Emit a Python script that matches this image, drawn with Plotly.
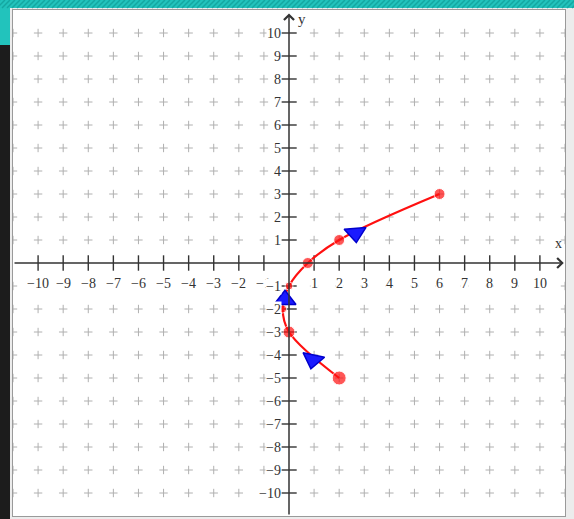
import plotly.graph_objects as go

# ---- data ----
x_ticks = [-10, -9, -8, -7, -6, -5, -4, -3, -2, -1, 1, 2, 3, 4, 5, 6, 7, 8, 9, 10]
y_ticks = [-10, -9, -8, -7, -6, -5, -4, -3, -2, -1, 1, 2, 3, 4, 5, 6, 7, 8, 9, 10]
grid_x = [-11] + x_ticks + [11]
grid_y = y_ticks

curve_x = [2, 0, -0.25, 0, 0.75, 2, 6]
curve_y = [-5, -3, -2, -1, 0, 1, 3]
dot_size = [14, 12, 8, 8, 11, 11, 11]

arrow_x = [2.65, -0.16, 0.95]
arrow_y = [1.3, -1.6, -4.2]
arrow_symbol = ["triangle-down", "triangle-up", "triangle-down"]
arrow_angle = [-5, 0, 12]

W, H = 574, 519
L, R, T, B = 13, 9, 10, 3
PW, PH = W - L - R, H - T - B


def px(xp):
    return (xp - L) / PW


def py(yp):
    return (H - B - yp) / PH


fig = go.Figure()

# grid of plus marks
gx, gy = [], []
for xv in grid_x:
    for yv in grid_y:
        gx.append(xv)
        gy.append(yv)
fig.add_trace(go.Scatter(x=gx, y=gy, mode="markers", hoverinfo="skip",
                         marker=dict(symbol="cross-thin", size=6,
                                     line=dict(width=1, color="#b0b0b0")),
                         cliponaxis=True))

# tick marks on the axes
fig.add_trace(go.Scatter(x=x_ticks, y=[0] * len(x_ticks), mode="markers", hoverinfo="skip",
                         marker=dict(symbol="line-ns", size=11,
                                     line=dict(width=1.4, color="#333333"))))
fig.add_trace(go.Scatter(x=[0] * len(y_ticks), y=y_ticks, mode="markers", hoverinfo="skip",
                         marker=dict(symbol="line-ew", size=11,
                                     line=dict(width=1.4, color="#333333"))))

annotations = []
tick_font = dict(family="Liberation Serif", size=14, color="#333333")
for v in x_ticks:
    annotations.append(dict(x=v, y=0, xref="x", yref="y", text=("−" + str(-v)) if v < 0 else str(v),
                            showarrow=False, yshift=-20, font=tick_font, bgcolor="white",
                            borderpad=0))
for v in y_ticks:
    annotations.append(dict(x=0, y=v, xref="x", yref="y", text=("−" + str(-v)) if v < 0 else str(v),
                            showarrow=False, xanchor="right", xshift=-7, font=tick_font,
                            bgcolor="white", borderpad=0))

# axes with arrow heads
annotations.append(dict(x=10.95, y=0, ax=-11, ay=0, xref="x", yref="y", axref="x", ayref="y",
                        text="", showarrow=True, arrowhead=4, arrowsize=1.3, arrowwidth=1.5,
                        arrowcolor="#333333", standoff=0))
annotations.append(dict(x=0, y=10.85, ax=0, ay=-11, xref="x", yref="y", axref="x", ayref="y",
                        text="", showarrow=True, arrowhead=4, arrowsize=1.3, arrowwidth=1.5,
                        arrowcolor="#333333", standoff=0))
annotations.append(dict(x=10.75, y=0.85, xref="x", yref="y", text="x", showarrow=False,
                        font=dict(family="Liberation Serif", size=14, color="#333333")))
annotations.append(dict(x=0.5, y=10.6, xref="x", yref="y", text="y", showarrow=False,
                        font=dict(family="Liberation Serif", size=15, color="#333333")))

# red curve
fig.add_trace(go.Scatter(x=curve_x, y=curve_y, mode="lines", line_shape="spline",
                         line=dict(color="#ff1010", width=2.2), hoverinfo="skip"))
fig.add_trace(go.Scatter(x=curve_x, y=curve_y, mode="markers", hoverinfo="skip",
                         marker=dict(color="#ff1010", size=dot_size)))

# blue direction arrows
fig.add_trace(go.Scatter(x=arrow_x, y=arrow_y, mode="markers", hoverinfo="skip",
                         marker=dict(symbol=arrow_symbol, angle=arrow_angle, size=19,
                                     color="#1a1aff",
                                     line=dict(color="#0000cc", width=1.5))))

# screenshot surroundings
shapes = [
    dict(type="rect", xref="paper", yref="paper", x0=px(0), x1=px(W), y0=py(8), y1=py(0),
         fillcolor="#22c3bc", line=dict(width=0), layer="below"),
    dict(type="rect", xref="paper", yref="paper", x0=px(0), x1=px(10), y0=py(45), y1=py(0),
         fillcolor="#22c3bc", line=dict(width=0), layer="below"),
    dict(type="rect", xref="paper", yref="paper", x0=px(0), x1=px(10), y0=py(H), y1=py(45),
         fillcolor="#1c1c1c", line=dict(width=0), layer="below"),
]
for s in range(-8, W, 5):
    shapes.append(dict(type="line", xref="paper", yref="paper", x0=px(s), y0=py(8),
                       x1=px(s + 8), y1=py(0), line=dict(color="#14a7a1", width=1.5),
                       layer="below"))

fig.update_layout(
    width=W, height=H,
    margin=dict(l=L, r=R, t=T, b=B),
    paper_bgcolor="#ececec",
    plot_bgcolor="white",
    showlegend=False,
    xaxis=dict(range=[-11, 11], showgrid=False, zeroline=False, showticklabels=False,
               ticks="", showline=True, mirror=True, linecolor="#9a9a9a", linewidth=1,
               fixedrange=True),
    yaxis=dict(range=[-11, 11], showgrid=False, zeroline=False, showticklabels=False,
               ticks="", showline=True, mirror=True, linecolor="#9a9a9a", linewidth=1,
               fixedrange=True),
    annotations=annotations,
    shapes=shapes,
)

fig.write_html("out.html", config={"displayModeBar": False},
               post_script="document.body.style.margin='0';document.body.style.overflow='hidden';")
